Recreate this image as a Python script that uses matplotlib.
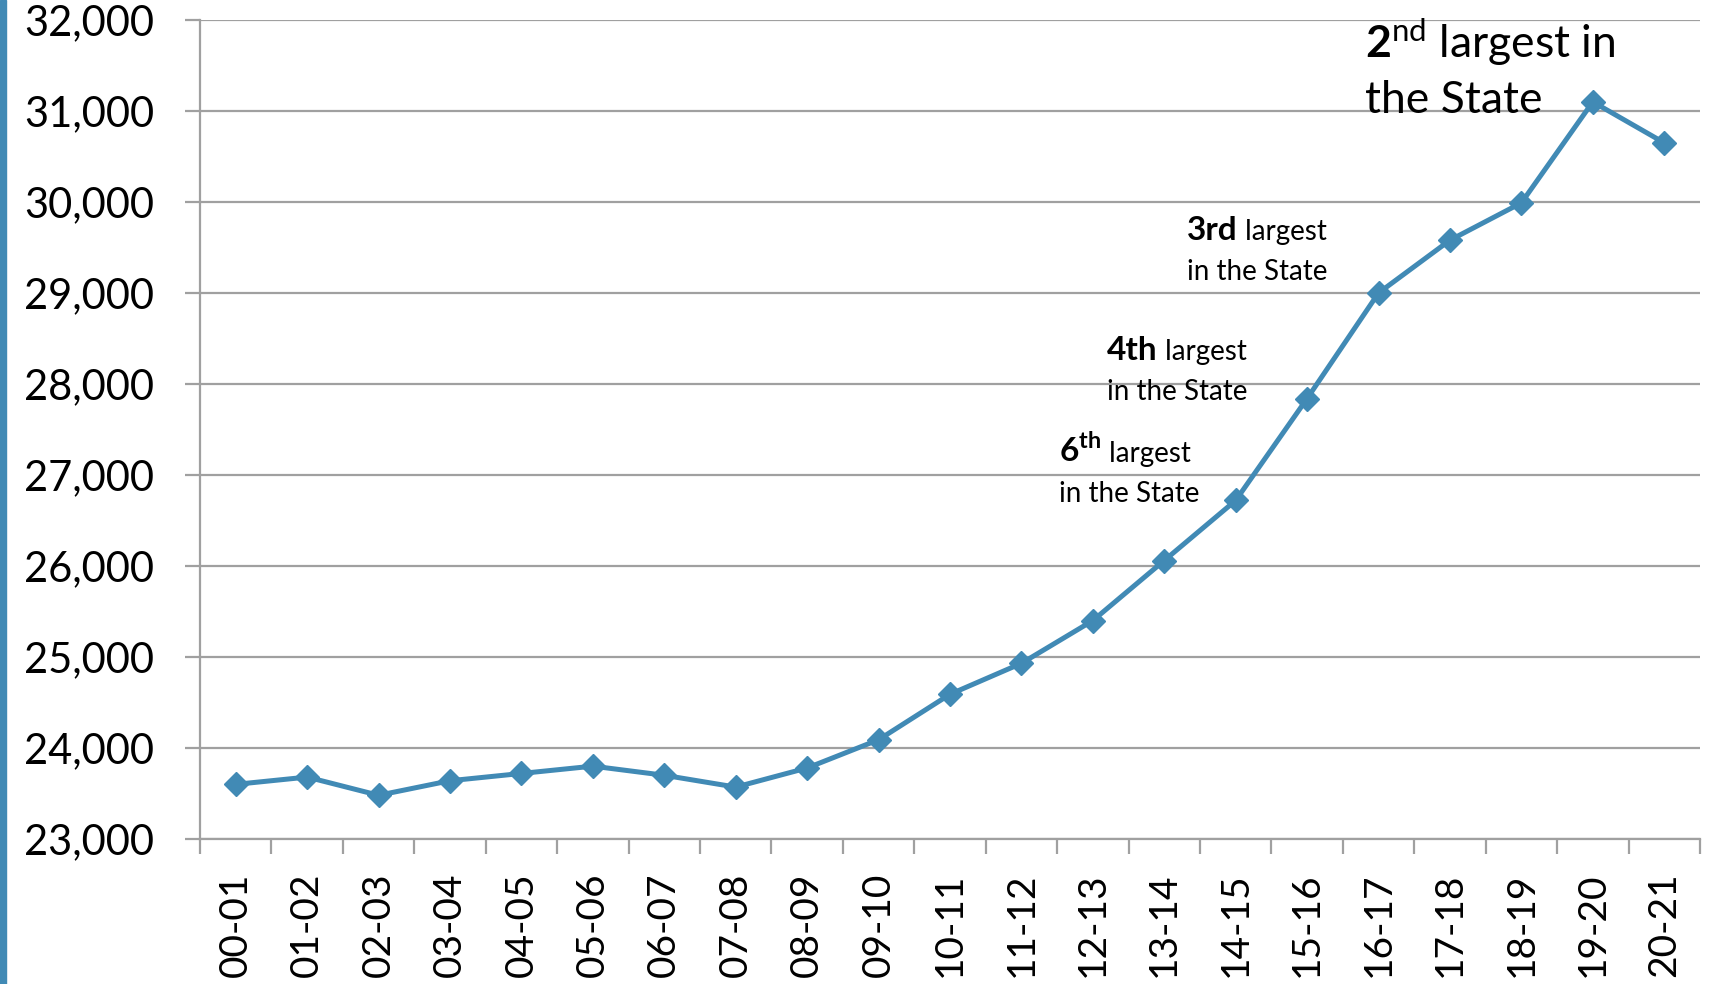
import matplotlib
matplotlib.use("Agg")
import matplotlib.pyplot as plt
from matplotlib.ticker import FuncFormatter, FixedLocator

plt.rcParams['font.family'] = ['Lato', 'DejaVu Sans']
plt.rcParams['mathtext.fontset'] = 'custom'
plt.rcParams['mathtext.rm'] = 'Lato'
plt.rcParams['mathtext.bf'] = 'Lato:bold'

years = ['00-01', '01-02', '02-03', '03-04', '04-05', '05-06', '06-07', '07-08',
         '08-09', '09-10', '10-11', '11-12', '12-13', '13-14', '14-15', '15-16',
         '16-17', '17-18', '18-19', '19-20', '20-21']
enrollment = [23600, 23680, 23480, 23640, 23720, 23800, 23700, 23570,
              23780, 24090, 24590, 24930, 25400, 26060, 26720, 27840,
              29000, 29580, 29990, 31100, 30650]

blue = '#418ab5'
grid_col = '#a0a0a0'

fig = plt.figure(figsize=(17.14, 9.84), dpi=100)
ax = fig.add_axes([0.1167, 0.1474, 0.8751, 0.8323])

# left accent bar
fig.patches.append(plt.Rectangle((0, 0), 6 / 1714, 1, transform=fig.transFigure,
                                 color=blue, zorder=0))

x = list(range(len(years)))
ax.plot(x, enrollment, color=blue, lw=3.6, marker='D', ms=12.5, zorder=3,
        solid_joinstyle='round')

ax.set_xlim(-0.5, len(years) - 0.5)
ax.set_ylim(23000, 32000)
ax.set_yticks(range(23000, 32001, 1000))
ax.yaxis.set_major_formatter(FuncFormatter(lambda v, p: f'{int(v):,}'))
ax.yaxis.grid(True, color=grid_col, lw=1.6)
ax.set_axisbelow(True)

ax.set_xticks(x)
ax.set_xticklabels(years, rotation=90, fontsize=28)
ax.tick_params(axis='x', length=0, pad=24)
ax.xaxis.set_minor_locator(FixedLocator([i - 0.5 for i in range(len(years) + 1)]))
ax.tick_params(axis='x', which='minor', length=11, width=1.6, color=grid_col)
ax.tick_params(axis='y', length=11, width=1.6, color=grid_col, labelsize=30, pad=22)

for s in ['top', 'right']:
    ax.spines[s].set_visible(False)
for s in ['left', 'bottom']:
    ax.spines[s].set_color(grid_col)
    ax.spines[s].set_linewidth(1.6)


def rank_note(xpos, y1, y2, bold, size_b=24, size=20):
    t = ax.text(xpos, y1, bold, fontsize=size_b, fontweight='bold', va='baseline')
    ax.annotate(' largest', xy=(1, 0), xycoords=t, fontsize=size, va='bottom')
    ax.text(xpos, y2, 'in the State', fontsize=size, va='baseline')


# annotations
ax.text(15.81, 31582, r'$\mathbf{2}^{\mathrm{nd}}$ largest in', fontsize=32, va='baseline')
ax.text(15.81, 30978, 'the State', fontsize=32, va='baseline')

rank_note(13.32, 29582, 29143, '3rd')
rank_note(12.2, 28264, 27824, '4th')
rank_note(11.53, 27143, 26703, r'$\mathbf{6}^{\mathbf{th}}$')

fig.savefig('out.png', dpi=100)
